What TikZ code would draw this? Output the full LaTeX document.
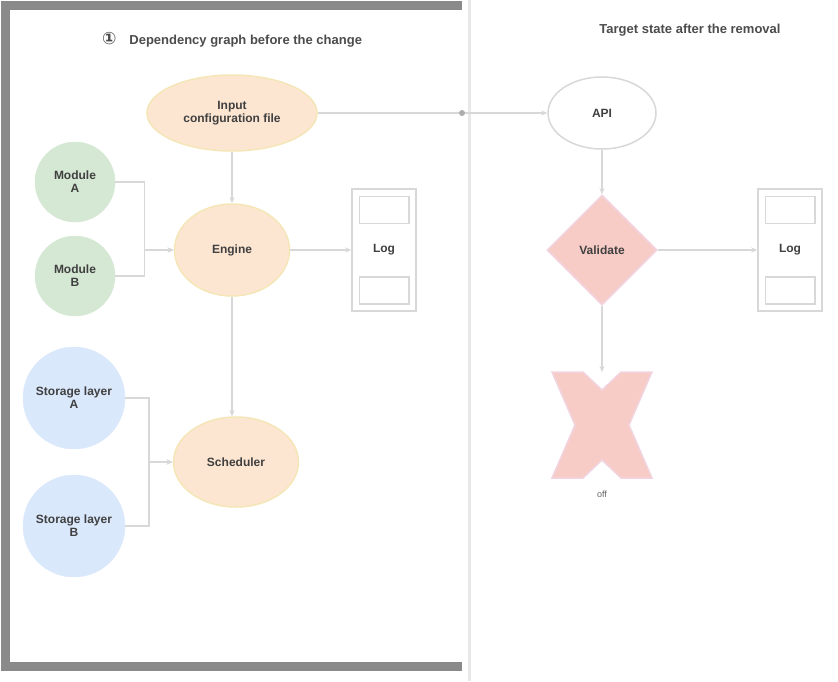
\documentclass[tikz,border=0pt]{standalone}
\usepackage{fontspec}
\setmainfont{Liberation Sans}
\newfontfamily\symfont{DejaVu Sans}
\usetikzlibrary{shapes.geometric,shapes.misc,arrows.meta,calc}
\definecolor{orfill}{HTML}{FCE6D2}
\definecolor{ordraw}{HTML}{F5E6B8}
\definecolor{grfill}{HTML}{D5E8D4}
\definecolor{blfill}{HTML}{DAE8FC}
\definecolor{rdfill}{HTML}{F7CCC6}
\definecolor{rddraw}{HTML}{F2D4E0}
\definecolor{lineg}{HTML}{D8D8D8}
\definecolor{frame}{HTML}{8A8A8A}
\begin{document}
\begin{tikzpicture}[x=1pt,y=-1pt,
  every node/.style={font=\bfseries\fontsize{12}{13}\selectfont, text=black!75},
  oval/.style={ellipse, fill=orfill, draw=ordraw, line width=1.5pt, inner sep=0pt},
  greenc/.style={circle, fill=grfill, draw=grfill, minimum size=80pt, inner sep=0pt, align=center},
  bluec/.style={circle, fill=blfill, draw=blfill, minimum size=102pt, inner sep=0pt, align=center},
  docbox/.style={rectangle, draw=lineg, line width=1.5pt, fill=white, minimum width=64pt, minimum height=122pt},
  conn/.style={draw=lineg, line width=1.5pt, -{Stealth[length=6pt,width=5pt]}},
  plain/.style={draw=lineg, line width=1.5pt},
  title/.style={font=\bfseries\fontsize{13}{15}\selectfont, text=black!70}
]
\useasboundingbox (0,0) rectangle (838,681);
\fill[white] (0,0) rectangle (838,681);
% panel frames
\draw[lineg!60, line width=3pt] (469,0) -- (469,681);
\draw[frame, line width=9pt] (462,5) -- (5,5) -- (5,666) -- (462,666);
% titles
\node[title] (t1) at (232,40) {{\symfont\fontsize{17}{17}\selectfont ①}\quad Dependency graph before the change};
\node[title] (t2) at (690,30) {Target state after the removal};
% left nodes
\node[oval, minimum width=170pt, minimum height=76pt, align=center] (top) at (232,113) {Input\\configuration file};
\node[greenc] (g1) at (75,182) {Module\\A};
\node[greenc] (g2) at (75,276) {Module\\B};
\node[bluec] (b1) at (74,398) {Storage layer\\A};
\node[bluec] (b2) at (74,526) {Storage layer\\B};
\node[oval, minimum width=115pt, minimum height=92pt] (core) at (232,250) {Engine};
\node[oval, minimum width=125pt, minimum height=90pt] (low) at (236,462) {Scheduler};
\node[docbox] (r1) at (384,250) {Log};
\draw[lineg, line width=1.5pt] ($(r1.north west)+(8,8)$) rectangle ($(r1.north east)+(-8,35)$);
\draw[lineg, line width=1.5pt] ($(r1.south west)+(8,-8)$) rectangle ($(r1.south east)+(-8,-35)$);
% right nodes
\node[ellipse, draw=lineg, line width=1.5pt, fill=white, minimum width=108pt, minimum height=72pt] (api) at (602,113) {API};
\node[diamond, fill=rdfill, draw=rddraw, line width=1.5pt, minimum width=110pt, minimum height=110pt, inner sep=0pt] (chk) at (602,250) {Validate};
\node[docbox] (r2) at (790,250) {Log};
\draw[lineg, line width=1.5pt] ($(r2.north west)+(8,8)$) rectangle ($(r2.north east)+(-8,35)$);
\draw[lineg, line width=1.5pt] ($(r2.south west)+(8,-8)$) rectangle ($(r2.south east)+(-8,-35)$);
\fill[rdfill, draw=rddraw, line width=1.5pt] (552,372) -- (583,372) -- (602,390) -- (621,372) -- (652,372) -- (629,425) -- (652,478) -- (621,478) -- (602,460) -- (583,478) -- (552,478) -- (575,425) -- cycle;
\coordinate (xtop) at (602,372);
\node[font=\fontsize{9}{10}\selectfont, text=black!60] (fl) at (602,494) {off};
% connectors
\coordinate (jn) at (462,113);
\draw[plain] (top.east) -- (jn);
\draw[conn] (jn) -- (api.west);
\fill[lineg!80!black] (jn) circle (3pt);
\draw[conn] (top.south) -- (core.north);
\draw[conn] (g1.east) -| ($(g1.east)!0.5!(core.west)$) |- (core.west);
\draw[conn] (g2.east) -| ($(g2.east)!0.5!(core.west)$) |- (core.west);
\draw[conn] (core.east) -- (r1.west);
\draw[conn] (core.south) -- (core.south |- low.north);
\draw[conn] (b1.east) -| ($(b1.east)!0.5!(low.west)$) |- (low.west);
\draw[conn] (b2.east) -| ($(b2.east)!0.5!(low.west)$) |- (low.west);
\draw[conn] (api.south) -- (chk.north);
\draw[conn] (chk.east) -- (r2.west);
\draw[conn] (chk.south) -- (xtop);
\end{tikzpicture}
\end{document}
